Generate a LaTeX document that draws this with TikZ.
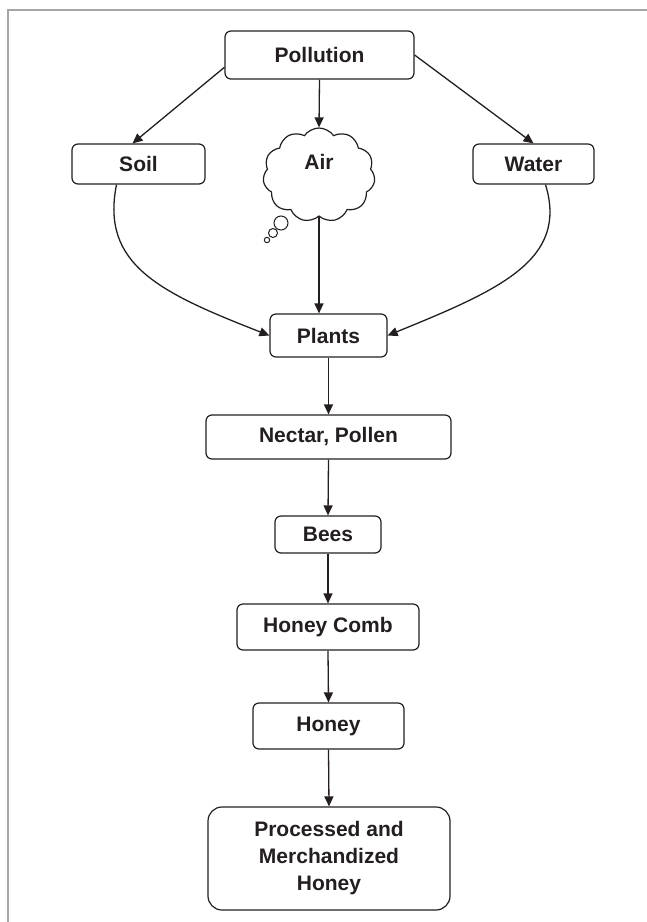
\documentclass[tikz,border=0pt]{standalone}
\usepackage{fontspec}
\setmainfont{Liberation Sans}
\usetikzlibrary{arrows.meta,shapes.symbols,calc}
\definecolor{ink}{HTML}{231F20}
\begin{document}
\begin{tikzpicture}[x=1pt,y=-1pt,
  box/.style={draw=ink, line width=1.2pt, rounded corners=6pt, inner sep=0pt,
    align=center, font=\bfseries\fontsize{21}{27}\selectfont, text=ink},
  conn/.style={draw=ink, line width=1.3pt, -{Triangle[length=10pt,width=9pt]}},
  bubble/.style={draw=ink, line width=1pt, fill=white},
]
\useasboundingbox (0,0) rectangle (647,922);
\draw[gray!70, line width=1.8pt] (8,922) -- (8,10) -- (647,10);

\node[box, minimum width=189pt, minimum height=48pt] (pol) at (319.5,55) {Pollution};
\node[box, minimum width=133pt, minimum height=40pt] (soil) at (138.5,164) {Soil};
\node[box, minimum width=121pt, minimum height=40pt] (water) at (533.5,164) {Water};

\draw[bubble] (281,223) circle (7pt);
\draw[bubble] (273,233) circle (4.5pt);
\draw[bubble] (267,240) circle (2.7pt);
\node[cloud, draw=ink, fill=white, line width=1.2pt, cloud puffs=11, cloud puff arc=110,
  minimum width=112pt, minimum height=94pt, inner sep=0pt,
  font=\bfseries\fontsize{21}{27}\selectfont, text=ink, text depth=26pt] (air) at (319,175) {Air};

\node[box, minimum width=117pt, minimum height=43pt] (plants) at (328.5,335.5) {Plants};
\node[box, minimum width=245pt, minimum height=44pt] (nectar) at (328.5,437) {Nectar, Pollen};
\node[box, minimum width=106pt, minimum height=37pt] (bees) at (328,534.5) {Bees};
\node[box, minimum width=182pt, minimum height=46pt] (comb) at (328,627) {Honey Comb};
\node[box, minimum width=151pt, minimum height=46pt] (honey) at (328.5,726) {Honey};
\node[box, minimum width=242pt, minimum height=103pt, rounded corners=14pt] (proc) at (329,858.5)
  {Processed and\\Merchandized\\Honey};

\draw[conn] ($(pol.west)!0.5!(pol.south west)$) -- ($(soil.north)+(-6,0)$);
\draw[conn] (pol.east) -- (water.north);
\draw[conn] (pol.south) -- (air.north);
\draw[conn] (air.south) -- (air.south |- plants.north);
\draw[conn] ($(soil.south)+(-22,0)$) .. controls +(-16,80) and +(-110,-43) .. (plants.west);
\draw[conn] ($(water.south)+(12,0)$) .. controls +(23,75) and +(113,-46) .. (plants.east);
\draw[conn] (plants.south) -- (nectar.north);
\draw[conn] (nectar.south) -- (bees.north);
\draw[conn] (bees.south) -- (comb.north);
\draw[conn] (comb.south) -- (honey.north);
\draw[conn] (honey.south) -- (proc.north);
\end{tikzpicture}
\end{document}
